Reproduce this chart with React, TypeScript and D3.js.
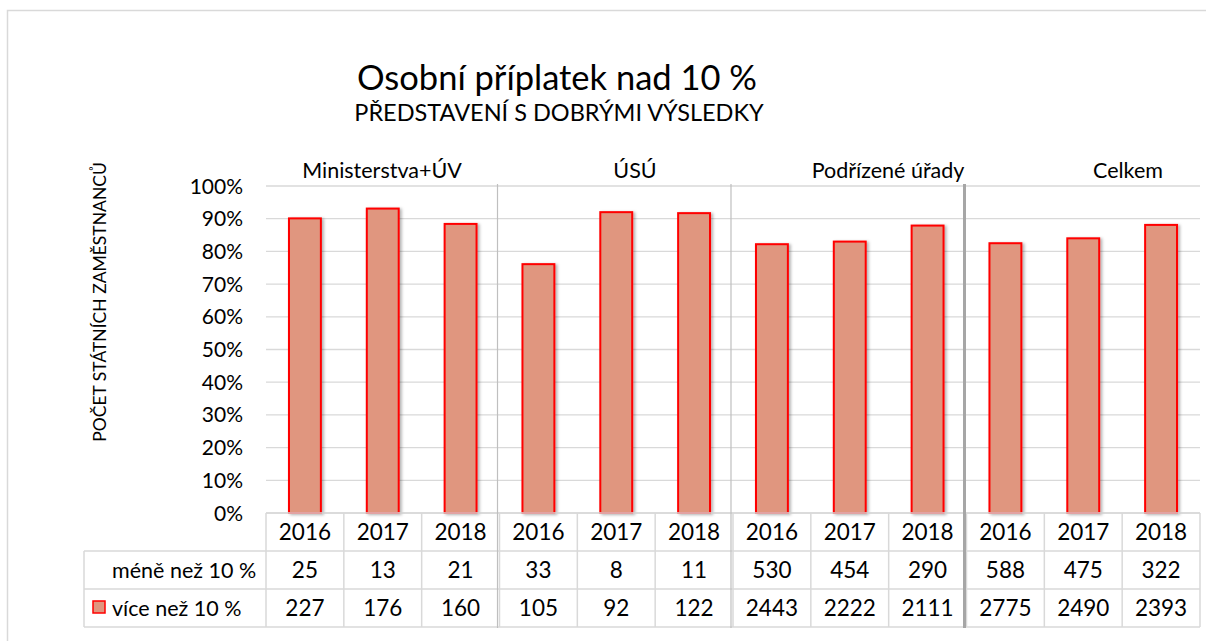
import React from "react";
import * as d3 from "d3";

// ---- data ----
const groups = ["Ministerstva+ÚV", "ÚSÚ", "Podřízené úřady", "Celkem"];
const years = ["2016", "2017", "2018"];
const pctVice = [90.1, 93.1, 88.4, 76.1, 92.0, 91.7, 82.2, 83.0, 87.9, 82.5, 84.0, 88.1];
const mene = [25, 13, 21, 33, 8, 11, 530, 454, 290, 588, 475, 322];
const vice = [227, 176, 160, 105, 92, 122, 2443, 2222, 2111, 2775, 2490, 2393];
const yTicks = [0, 10, 20, 30, 40, 50, 60, 70, 80, 90, 100];
const rowLabels = ["méně než 10 %", "více než 10 %"];
const title = "Osobní příplatek nad 10 %";
const subtitle = "PŘEDSTAVENÍ S DOBRÝMI VÝSLEDKY";
const yTitle = "POČET STÁTNÍCH ZAMĚSTNANCŮ";

// ---- layout ----
const W = 1206, H = 641;
const plotL = 266, plotR = 1200, plotT = 186, plotB = 513;
const rowH = 38;
const tableL = 84;
const groupLabelX = [382, 635, 888, 1128];
const FONT = "Lato, 'Open Sans', sans-serif";
const barFill = "#E0967F";
const barStroke = "#FF0000";
const grid = "#D9D9D9";

export default function App() {
  const cols = d3.range(groups.length * years.length);
  const x = d3.scaleBand<number>().domain(cols).range([plotL, plotR]).padding(0);
  const y = d3.scaleLinear().domain([0, 100]).range([plotB, plotT]);
  const bw = x.bandwidth();
  const barW = bw * 0.41;
  const rows = [plotB, plotB + rowH, plotB + 2 * rowH, plotB + 3 * rowH];

  return (
    <div style={{ position: "absolute", left: 0, top: 0 }}>
      <style>{"body{margin:0}"}</style>
      <svg width={W} height={H} style={{ display: "block", fontFamily: FONT }}>
        <defs>
          <filter id="sh" x="-30%" y="-10%" width="160%" height="130%">
            <feDropShadow dx="2" dy="1" stdDeviation="1.5" floodColor="#000" floodOpacity="0.3" />
          </filter>
        </defs>
        <rect x={0} y={0} width={W} height={H} fill="#fff" />
        <rect x={7.5} y={10.5} width={W + 10} height={H + 10} fill="none" stroke={grid} strokeWidth={1.5} />

        <text x={557} y={90} textAnchor="middle" fontSize={34.5} fill="#000">{title}</text>
        <text x={559} y={121} textAnchor="middle" fontSize={23.5} fill="#000">{subtitle}</text>

        {/* gridlines */}
        {yTicks.map((t) => (
          <line key={"g" + t} x1={plotL} x2={plotR} y1={y(t)} y2={y(t)} stroke={grid} strokeWidth={1.3} />
        ))}
        {/* y tick labels */}
        {yTicks.map((t) => (
          <text key={"t" + t} x={243} y={y(t)} dy="0.36em" textAnchor="end" fontSize={21} fill="#000">{t + "%"}</text>
        ))}
        <text transform={`translate(106,302) rotate(-90)`} textAnchor="middle" fontSize={17.5} fill="#000">{yTitle}</text>

        {/* group labels */}
        {groups.map((g, i) => (
          <text key={g} x={groupLabelX[i]} y={178} textAnchor="middle" fontSize={21.5} fill="#000">{g}</text>
        ))}

        {/* bars */}
        {pctVice.map((v, i) => (
          <rect key={"b" + i} x={(x(i) as number) + (bw - barW) / 2} y={y(v)} width={barW} height={y(0) - y(v)}
            fill={barFill} stroke={barStroke} strokeWidth={2} filter="url(#sh)" />
        ))}

        {/* table */}
        <g stroke={grid} strokeWidth={1.5}>
          <line x1={plotL} x2={plotR} y1={rows[0]} y2={rows[0]} />
          {rows.slice(1).map((r, i) => (
            <line key={"r" + i} x1={tableL} x2={plotR} y1={r} y2={r} />
          ))}
          <line x1={tableL} x2={tableL} y1={rows[1]} y2={rows[3]} />
          {cols.concat([cols.length]).map((c) => {
            const xx = c < cols.length ? (x(c) as number) : plotR;
            return <line key={"c" + c} x1={xx} x2={xx} y1={rows[0]} y2={rows[3]} />;
          })}
        </g>
        {cols.map((c) => (
          <g key={"cell" + c} fontSize={22.5} textAnchor="middle" fill="#000">
            <text x={(x(c) as number) + bw / 2} y={rows[0] + rowH / 2} dy="0.36em">{years[c % years.length]}</text>
            <text x={(x(c) as number) + bw / 2} y={rows[1] + rowH / 2} dy="0.36em">{mene[c]}</text>
            <text x={(x(c) as number) + bw / 2} y={rows[2] + rowH / 2} dy="0.36em">{vice[c]}</text>
          </g>
        ))}
        <text x={112} y={rows[1] + rowH / 2} dy="0.36em" fontSize={21.5} fill="#000">{rowLabels[0]}</text>
        <rect x={93} y={601} width={12} height={12} fill={barFill} stroke={barStroke} strokeWidth={1.5} />
        <text x={112} y={rows[2] + rowH / 2} dy="0.36em" fontSize={21.5} fill="#000">{rowLabels[1]}</text>

        {/* group separators */}
        {[1, 2, 3].map((gi) => {
          const xx = (x(gi * years.length) as number) - 2;
          const thick = gi === 3;
          return (
            <line key={"s" + gi} x1={xx} x2={xx} y1={184} y2={628}
              stroke={thick ? "#A6A6A6" : "#BFBFBF"} strokeWidth={thick ? 3 : 1.2} />
          );
        })}
      </svg>
    </div>
  );
}
